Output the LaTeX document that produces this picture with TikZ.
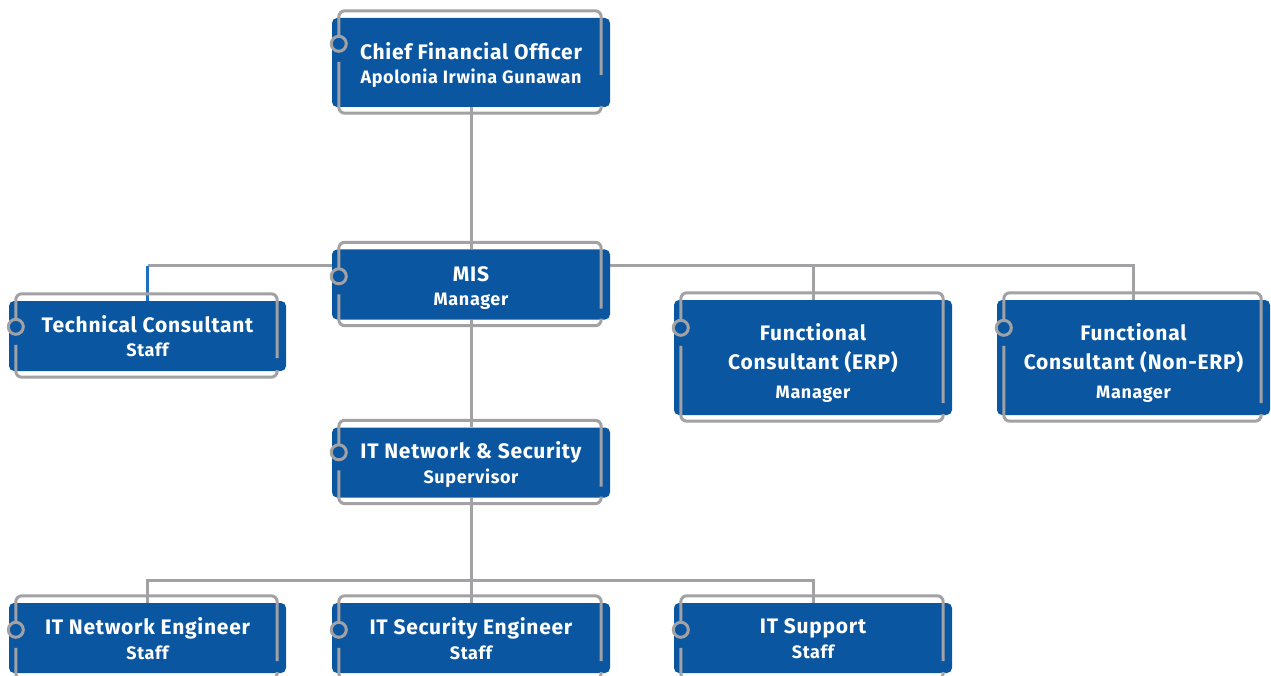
\documentclass[tikz,border=0pt]{standalone}
\usepackage{fontspec}
\setmainfont{Fira Sans}[LetterSpace=3.5]
\usetikzlibrary{calc,backgrounds}
\definecolor{boxblue}{HTML}{0A56A0}
\definecolor{framegrey}{HTML}{A2A2A5}
\definecolor{linkblue}{HTML}{1E6FC2}
\newcommand\subline[1]{{\fontsize{18}{24}\selectfont #1}}
\newcommand\deco[3]{%
  \draw[frameline] ($(#1.north west)+(7,#2-8)$) -- ($(#1.north west)+(7,-7)$) -- ($(#1.north east)+(-9,-7)$) -- ($(#1.south east)+(-9,-#3)$);
  \draw[frameline] ($(#1.north west)+(7,#2+18)$) -- ($(#1.south west)+(7,6)$) -- ($(#1.south east)+(-9,6)$) -- ($(#1.south east)+(-9,-1)$);
  \draw[line width=3pt, draw=framegrey, fill=boxblue] ($(#1.north west)+(7,#2)$) circle[radius=7.5];
}
\begin{document}
\begin{tikzpicture}[x=1pt,y=-1pt,
  orgbox/.style={fill=boxblue, rounded corners=5pt, inner sep=0pt},
  txt/.style={text=white, align=center, inner sep=0pt, font=\fontsize{21}{25}\selectfont\bfseries},
  frameline/.style={draw=framegrey, line width=3pt, rounded corners=6pt},
  conn/.style={draw=framegrey, line width=3pt},
  connblue/.style={draw=linkblue, line width=3pt}]
\useasboundingbox (0,0) rectangle (1271,676);

\node[orgbox, minimum width=278pt, minimum height=89pt] (cfo) at (471,62.5) {};
\node[orgbox, minimum width=278pt, minimum height=70pt] (mis) at (471,284.5) {};
\node[orgbox, minimum width=277pt, minimum height=70pt] (tech) at (147.5,336) {};
\node[orgbox, minimum width=278pt, minimum height=115pt] (erp) at (813,357.5) {};
\node[orgbox, minimum width=273pt, minimum height=115pt] (nerp) at (1133.5,357.5) {};
\node[orgbox, minimum width=278pt, minimum height=70pt] (itns) at (471,462.5) {};
\node[orgbox, minimum width=277pt, minimum height=70pt] (ne) at (147.5,638) {};
\node[orgbox, minimum width=278pt, minimum height=70pt] (se) at (471,638) {};
\node[orgbox, minimum width=278pt, minimum height=70pt] (sup) at (813,638) {};

\node[txt] (cfo-t) at ($(cfo.center)+(0,2.5)$)
  {Chief Financial Officer\\[-1pt]\subline{Apolonia Irwina Gunawan}};
\node[txt] (mis-t) at ($(mis.center)+(0,3.5)$) {MIS\\[-1pt]\subline{Manager}};
\node[txt] (tech-t) at ($(tech.center)+(0,0)$) {Technical Consultant\\[-1pt]\subline{Staff}};
\node[txt] (erp-t) at ($(erp.center)+(0,5)$)
  {Functional\\[4pt]Consultant (ERP)\\[4pt]\subline{Manager}};
\node[txt] (nerp-t) at ($(nerp.center)+(0,5)$)
  {Functional\\[4pt]Consultant (Non-ERP)\\[4pt]\subline{Manager}};
\node[txt] (itns-t) at ($(itns.center)+(0,1.5)$) {IT Network \& Security\\[0pt]\subline{Supervisor}};
\node[txt] (ne-t) at ($(ne.center)+(0,1)$) {IT Network Engineer\\[0pt]\subline{Staff}};
\node[txt] (se-t) at ($(se.center)+(0,1)$) {IT Security Engineer\\[0pt]\subline{Staff}};
\node[txt] (sup-t) at ($(sup.center)+(0,1)$) {IT Support\\[0pt]\subline{Staff}};

\coordinate (bus1) at (471,266);
\coordinate (bus2) at (471,580);

\begin{scope}[on background layer]
  \draw[conn] (cfo.south) -- (mis.north);
  \draw[conn] (tech.north |- bus1) -- (bus1) -| (nerp.north);
  \draw[conn] (bus1) -| (erp.north);
  \draw[connblue] (tech.north) -- (tech.north |- bus1);
  \draw[conn] (mis.south) -- (itns.north);
  \draw[conn] (itns.south) -- (bus2);
  \draw[conn] (bus2) -| (ne.north);
  \draw[conn] (bus2) -| (sup.north);
  \draw[conn] (bus2) -- (se.north);
\end{scope}

\deco{cfo}{26}{32}
\deco{mis}{27}{11}
\deco{tech}{26}{13}
\deco{erp}{28}{12}
\deco{nerp}{28}{12}
\deco{itns}{25}{11}
\deco{ne}{27}{12}
\deco{se}{27}{12}
\deco{sup}{27}{12}
\end{tikzpicture}
\end{document}
